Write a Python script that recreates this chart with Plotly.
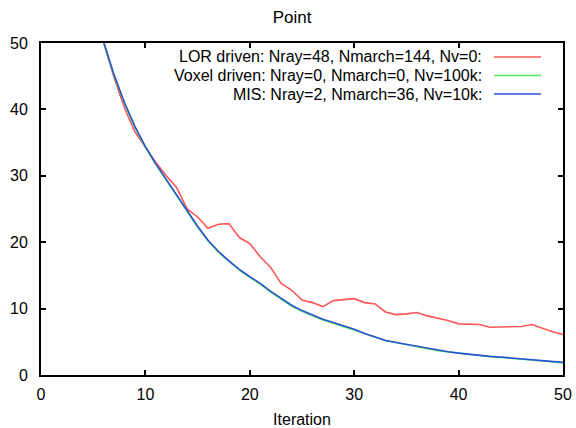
import plotly.graph_objects as go

iterations = list(range(5, 51))

lor_driven = [56.0, 50.0, 44.8, 40.2, 36.6, 34.3, 32.0, 30.0, 28.2, 25.0,
              23.8, 22.1, 22.7, 22.8, 20.7, 19.8, 17.8, 16.2, 13.8, 12.8,
              11.3, 10.9, 10.3, 11.2, 11.3, 11.5, 10.9, 10.7, 9.5, 9.1,
              9.2, 9.4, 8.9, 8.6, 8.2, 7.7, 7.7, 7.6, 7.2, 7.2,
              7.2, 7.3, 7.6, 7.0, 6.5, 6.1]

voxel_driven = [56.4, 50.1, 45.1, 40.9, 37.3, 34.3, 31.7, 29.3, 26.9, 24.6,
                22.3, 20.2, 18.5, 17.1, 15.8, 14.7, 13.7, 12.5, 11.4, 10.4,
                9.6, 8.9, 8.3, 7.8, 7.3, 6.8, 6.2, 5.7, 5.2, 4.9,
                4.55, 4.25, 3.95, 3.65, 3.45, 3.25, 3.05, 2.9, 2.75, 2.65,
                2.5, 2.35, 2.2, 2.05, 1.95, 1.85]

mis = [56.5, 50.2, 45.2, 41.0, 37.4, 34.4, 31.8, 29.4, 27.0, 24.7,
       22.4, 20.3, 18.6, 17.2, 15.9, 14.8, 13.8, 12.6, 11.5, 10.5,
       9.7, 9.0, 8.4, 7.9, 7.4, 6.9, 6.25, 5.7, 5.2, 4.9,
       4.6, 4.3, 4.0, 3.7, 3.5, 3.3, 3.1, 2.95, 2.8, 2.7,
       2.55, 2.4, 2.25, 2.1, 2.0, 1.9]

series_names = ["LOR driven: Nray=48, Nmarch=144, Nv=0:",
                "Voxel driven: Nray=0, Nmarch=0, Nv=100k:",
                "MIS: Nray=2, Nmarch=36, Nv=10k:"]
series_colors = ["#ff5555", "#55ee55", "#2a52d6"]
series_values = [lor_driven, voxel_driven, mis]

x_ticks = [0, 10, 20, 30, 40, 50]
y_ticks = [0, 10, 20, 30, 40, 50]

FONT = "Liberation Sans, Arial, sans-serif"

fig = go.Figure()
for name, vals, col in zip(series_names, series_values, series_colors):
    fig.add_trace(go.Scatter(x=iterations, y=vals, mode="lines", name=name,
                             line=dict(color=col, width=1.6), showlegend=False))

# gnuplot-style key: right-justified text followed by a line sample
key_rows_px = [57, 75.5, 94]
for name, col, py in zip(series_names, series_colors, key_rows_px):
    yy = (375 - py) / 332
    fig.add_annotation(xref="paper", yref="paper", x=0.8467, y=yy,
                       text=name, showarrow=False, xanchor="right", yanchor="middle",
                       borderpad=0,
                       font=dict(family=FONT, size=16, color="black"))
    fig.add_shape(type="line", xref="paper", yref="paper",
                  x0=0.8678, x1=0.9579, y0=yy, y1=yy,
                  line=dict(color=col, width=1.6))

axis_common = dict(showgrid=False, zeroline=False, showline=True, linecolor="black",
                   linewidth=2, mirror="ticks", ticks="inside", ticklen=5,
                   tickwidth=1.5, tickcolor="black", automargin=False,
                   tickfont=dict(family=FONT, size=16, color="black"))

fig.update_xaxes(range=[0, 50], tickvals=x_ticks, ticklabelstandoff=4,
                 title=dict(text="Iteration", font=dict(family=FONT, size=16, color="black"),
                            standoff=12),
                 **axis_common)
fig.update_yaxes(range=[0, 50], tickvals=y_ticks, ticklabelstandoff=8, **axis_common)

fig.update_layout(
    width=576, height=428,
    margin=dict(l=41, r=13, t=43, b=53),
    paper_bgcolor="white", plot_bgcolor="white",
    title=dict(text="Point", x=0.507, xanchor="center", y=1 - 17 / 428,
               yref="container", yanchor="middle",
               font=dict(family=FONT, size=17, color="black")),
    showlegend=False,
)

fig.write_html("out.html")
